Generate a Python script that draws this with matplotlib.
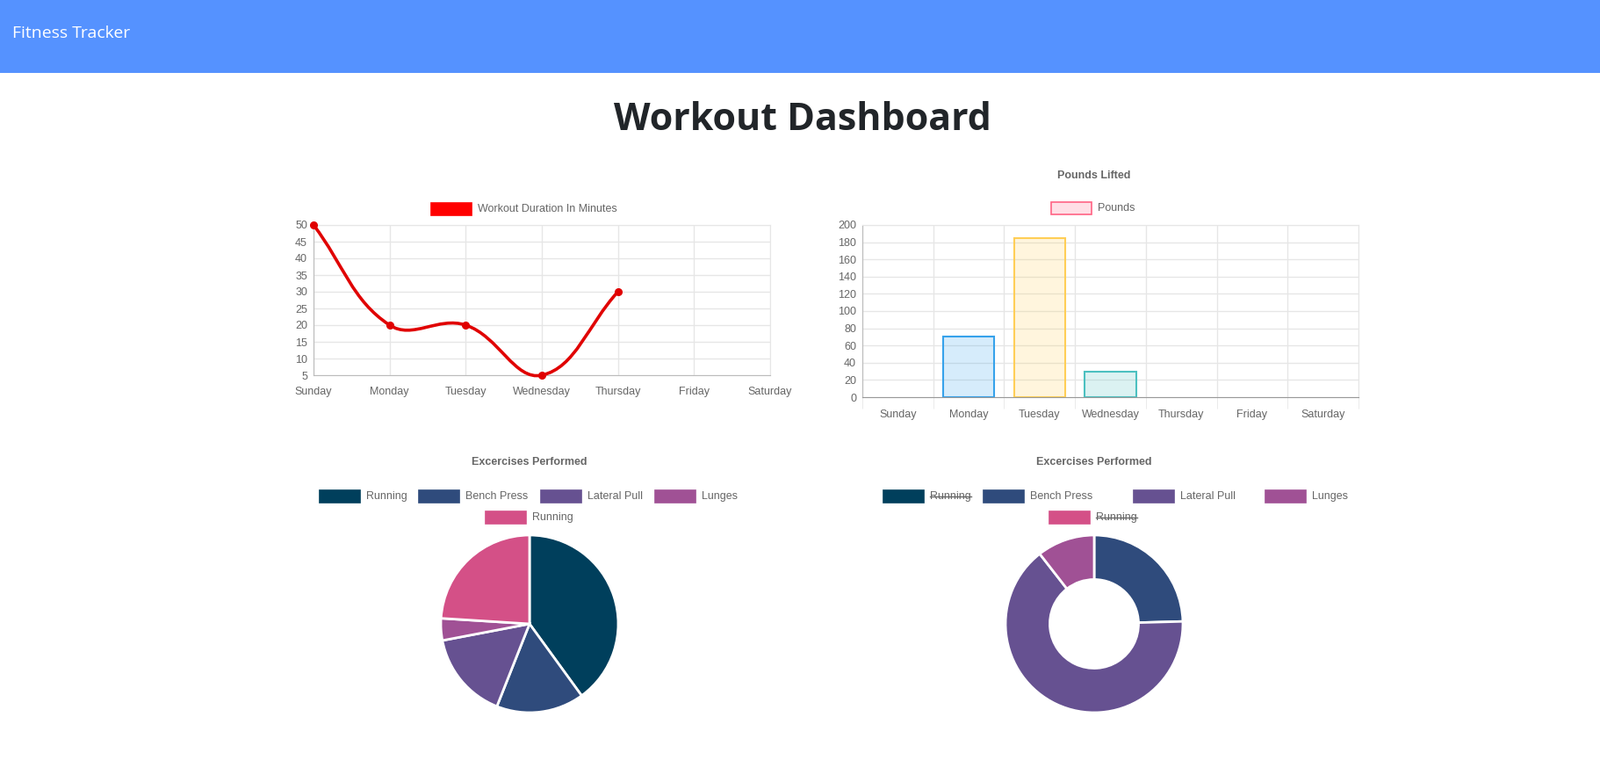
import numpy as np
import matplotlib.pyplot as plt
from matplotlib.patches import Rectangle
from matplotlib.path import Path
from matplotlib.patches import PathPatch

W, H = 1822, 882

days = ["Sunday", "Monday", "Tuesday", "Wednesday", "Thursday", "Friday", "Saturday"]
duration = [50, 20, 20, 5, 30]
pounds = [0, 70, 185, 30, 0, 0, 0]
exercises = ["Running", "Bench Press", "Lateral Pull", "Lunges", "Running"]
pie_values = [50, 20, 20, 5, 30]
donut_values = [70, 70, 185, 30, 30]
donut_hidden = [True, False, False, False, True]

pie_colors = ["#003f5c", "#2f4b7c", "#665191", "#a05195", "#d45087"]
bar_fill = [(1, 99/255, 132/255, 0.2), (54/255, 162/255, 235/255, 0.2), (1, 206/255, 86/255, 0.2),
            (75/255, 192/255, 192/255, 0.2), (153/255, 102/255, 1, 0.2), (1, 159/255, 64/255, 0.2),
            (1, 99/255, 132/255, 0.2)]
bar_edge = [(1, 99/255, 132/255), (54/255, 162/255, 235/255), (1, 206/255, 86/255),
            (75/255, 192/255, 192/255), (153/255, 102/255, 1), (1, 159/255, 64/255),
            (1, 99/255, 132/255)]

TXT = "#666666"
GRID = "#e6e6e6"
FONT = "Liberation Sans"
FS = 9

fig = plt.figure(figsize=(W / 100, H / 100), dpi=100)
fig.patch.set_facecolor("white")


def fx(px):
    return px / W


def fy(py):
    return 1 - py / H


def box(x0, y0, x1, y1):
    # pixel box (top-left origin) -> figure rect
    return [fx(x0), fy(y1), fx(x1) - fx(x0), (y1 - y0) / H]


def legend_item(x, y, color, label, edge=None, strike=False):
    fig.patches.append(Rectangle((fx(x), fy(y + 7)), 46 / W, 14 / H, transform=fig.transFigure,
                                 facecolor=color, edgecolor=edge if edge else color, lw=1.2))
    t = fig.text(fx(x + 53), fy(y), label, fontsize=FS, color=TXT, family=FONT, va="center")
    if strike:
        fig.canvas.draw()
        bb = t.get_window_extent()
        fig.add_artist(plt.Line2D([bb.x0 / W, bb.x1 / W], [fy(y), fy(y)], transform=fig.transFigure,
                                  color=TXT, lw=1))


# header
fig.patches.append(Rectangle((0, fy(83)), 1, 83 / H, transform=fig.transFigure,
                             facecolor="#5592ff", edgecolor="none"))
fig.text(fx(14), fy(38), "Fitness Tracker", color="white", fontsize=14, family="Open Sans", va="center")
fig.text(0.5 + fx(3), fy(137), "Workout Dashboard", color="#212529", fontsize=31, weight="bold",
         family="Open Sans", ha="center", va="center")


def style_axes(ax):
    for s in ax.spines.values():
        s.set_color(GRID)
    ax.tick_params(colors=TXT, labelsize=FS, length=0, pad=5)
    for lab in ax.get_xticklabels() + ax.get_yticklabels():
        lab.set_family(FONT)
    ax.grid(True, color=GRID, linewidth=1)
    ax.set_axisbelow(True)


# line chart
ax1 = fig.add_axes(box(357, 256, 877, 427))
ax1.set_xlim(0, 6)
ax1.set_ylim(5, 50)
ax1.set_xticks(range(7))
ax1.set_xticklabels(days)
ax1.set_yticks(range(5, 51, 5))
style_axes(ax1)
ax1.spines["left"].set_color("#bbbbbb")
ax1.spines["bottom"].set_color("#bbbbbb")
ax1.tick_params(axis="x", pad=9)

# Chart.js style bezier (tension 0.4) in pixel space
sx, sy = 520 / 6, 171 / 45
pts = np.array([[i * sx, v * sy] for i, v in enumerate(duration)])
n = len(pts)
verts, codes = [tuple(pts[0])], [Path.MOVETO]
cps = []
for i in range(n):
    p0 = pts[max(i - 1, 0)]
    p1 = pts[i]
    p2 = pts[min(i + 1, n - 1)]
    d01 = np.hypot(*(p1 - p0))
    d12 = np.hypot(*(p2 - p1))
    s01 = d01 / (d01 + d12)
    s12 = d12 / (d01 + d12)
    cps.append((p1 - 0.4 * s01 * (p2 - p0), p1 + 0.4 * s12 * (p2 - p0)))
for i in range(n - 1):
    verts += [tuple(cps[i][1]), tuple(cps[i + 1][0]), tuple(pts[i + 1])]
    codes += [Path.CURVE4] * 3
verts = [(x / sx, y / sy) for x, y in verts]
ax1.add_patch(PathPatch(Path(verts, codes), facecolor="none", edgecolor="#e00000", lw=2.6, zorder=3,
                        clip_on=False))
ax1.plot(range(n), duration, "o", color="#e00000", ms=5.5, zorder=4, clip_on=False)
legend_item(491, 238, "red", "Workout Duration In Minutes")

# bar chart
ax2 = fig.add_axes(box(982, 256, 1547, 452))
x = np.arange(len(days))
lws = [1.5 if v > 0 else 0 for v in pounds]
ax2.bar(x, pounds, width=0.72, color=bar_fill, edgecolor=bar_edge, linewidth=lws)
ax2.set_xlim(-0.5, 6.5)
ax2.set_ylim(0, 200)
ax2.set_yticks(range(0, 201, 20))
ax2.set_xticks(x)
ax2.set_xticklabels(days)
ax2.set_xticks(np.arange(-0.5, 7, 1), minor=True)
style_axes(ax2)
ax2.grid(False, axis="x", which="major")
ax2.grid(True, axis="x", which="minor", color=GRID, linewidth=1)
ax2.tick_params(axis="x", which="minor", length=9, color=GRID)
ax2.tick_params(axis="x", which="major", pad=10)
ax2.spines["bottom"].set_color("#999999")
ax2.spines["left"].set_color("#bbbbbb")
fig.text(fx(1246), fy(200), "Pounds Lifted", fontsize=FS, weight="bold", color=TXT, family=FONT,
         ha="center", va="center")
legend_item(1197, 237, (1, 99/255, 132/255, 0.2), "Pounds", edge=(1, 99/255, 132/255))

# pie
r = 101
ax3 = fig.add_axes(box(603 - 1.05 * r, 710 - 1.05 * r, 603 + 1.05 * r, 710 + 1.05 * r))
ax3.pie(pie_values, colors=pie_colors, startangle=90, counterclock=False,
        wedgeprops=dict(edgecolor="white", linewidth=2))
ax3.set_xlim(-1.05, 1.05)
ax3.set_ylim(-1.05, 1.05)
fig.text(fx(603), fy(526), "Excercises Performed", fontsize=FS, weight="bold", color=TXT,
         family=FONT, ha="center", va="center")
row1 = [364, 477, 616, 746]
for i in range(4):
    legend_item(row1[i], 565, pie_colors[i], exercises[i])
legend_item(553, 589, pie_colors[4], exercises[4])

# donut
ax4 = fig.add_axes(box(1246 - 1.05 * r, 710 - 1.05 * r, 1246 + 1.05 * r, 710 + 1.05 * r))
vis = [v for v, h in zip(donut_values, donut_hidden) if not h]
vcol = [c for c, h in zip(pie_colors, donut_hidden) if not h]
ax4.pie(vis, colors=vcol, startangle=90, counterclock=False,
        wedgeprops=dict(edgecolor="white", linewidth=2, width=0.5))
ax4.set_xlim(-1.05, 1.05)
ax4.set_ylim(-1.05, 1.05)
fig.text(fx(1246), fy(526), "Excercises Performed", fontsize=FS, weight="bold", color=TXT,
         family=FONT, ha="center", va="center")
row1d = [1006, 1120, 1291, 1441]
for i in range(4):
    legend_item(row1d[i], 565, pie_colors[i], exercises[i], strike=donut_hidden[i])
legend_item(1195, 589, pie_colors[4], exercises[4], strike=donut_hidden[4])

fig.savefig("out.png", dpi=100)
